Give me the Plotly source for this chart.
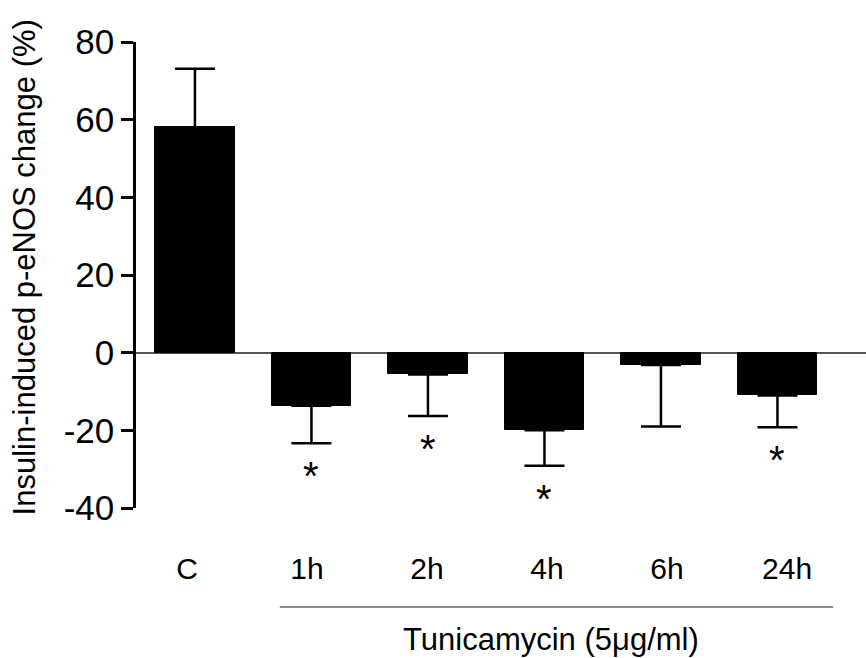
import plotly.graph_objects as go

categories = ["C", "1h", "2h", "4h", "6h", "24h"]
values = [58.0, -13.7, -5.6, -20.0, -3.2, -11.0]
errors = [15.1, 9.6, 10.7, 9.1, 15.8, 8.2]
significant = [False, True, True, True, False, True]
y_ticks = [-40, -20, 0, 20, 40, 60, 80]
y_tick_labels = ["-40", "-20", "0", "20", "40", "60", "80"]
y_title = "Insulin-induced p-eNOS change (%)"
group_label = "Tunicamycin (5\u03bcg/ml)"

FONT = "Liberation Sans, Arial, sans-serif"
xs = list(range(len(categories)))

err_plus = [e if v >= 0 else 0 for v, e in zip(values, errors)]
err_minus = [e if v < 0 else 0 for v, e in zip(values, errors)]

fig = go.Figure()
fig.add_trace(go.Bar(
    x=xs, y=values, width=0.685,
    marker=dict(color="black", line=dict(color="black", width=1)),
    error_y=dict(type="data", symmetric=False, array=err_plus, arrayminus=err_minus,
                 color="black", thickness=2.5, width=20),
    showlegend=False, hoverinfo="y",
))
# invisible trace to carry the category labels axis
fig.add_trace(go.Scatter(x=xs, y=[0] * len(xs), xaxis="x2", mode="markers",
                         marker=dict(opacity=0), showlegend=False, hoverinfo="skip"))

annotations = []
for x, v, e, s in zip(xs, values, errors, significant):
    if s:
        annotations.append(dict(x=x, y=v - e - 7.2, xref="x", yref="y", text="*",
                                showarrow=False, font=dict(family=FONT, size=40, color="black"),
                                xanchor="center", yanchor="middle", yshift=-5))

annotations.append(dict(x=-0.153, y=0.517, xref="paper", yref="paper", text=y_title,
                        textangle=-90, showarrow=False, xanchor="center", yanchor="middle",
                        font=dict(family=FONT, size=31, color="black")))
annotations.append(dict(x=0.569, y=-0.283, xref="paper", yref="paper", text=group_label,
                        showarrow=False, xanchor="center", yanchor="middle",
                        font=dict(family=FONT, size=31, color="black")))

fig.update_layout(
    width=866, height=658,
    margin=dict(l=136, r=0, t=42, b=150),
    paper_bgcolor="white", plot_bgcolor="white",
    bargap=0,
    xaxis=dict(range=[-0.506, 5.76], showline=False, showgrid=False, zeroline=False,
               showticklabels=False, ticks="", fixedrange=True),
    xaxis2=dict(range=[-0.425, 5.658], overlaying="x", anchor="y", side="bottom",
                tickmode="array", tickvals=xs, ticktext=categories,
                showline=False, showgrid=False, zeroline=False, ticks="",
                ticklabelstandoff=40,
                tickfont=dict(family=FONT, size=30, color="black")),
    yaxis=dict(range=[-40, 80], tickmode="array", tickvals=y_ticks, ticktext=y_tick_labels,
               showgrid=False,
               showline=True, linecolor="black", linewidth=2.5,
               ticks="outside", ticklen=12, tickwidth=2.5, tickcolor="black",
               zeroline=True, zerolinecolor="#555555", zerolinewidth=1.5,
               tickfont=dict(family=FONT, size=35, color="black")),
    annotations=annotations,
    shapes=[dict(type="line", xref="paper", yref="paper", x0=0.197, x1=0.955,
                 y0=-0.2124, y1=-0.2124, line=dict(color="#666666", width=1.5))],
)

fig.write_html("out.html")
